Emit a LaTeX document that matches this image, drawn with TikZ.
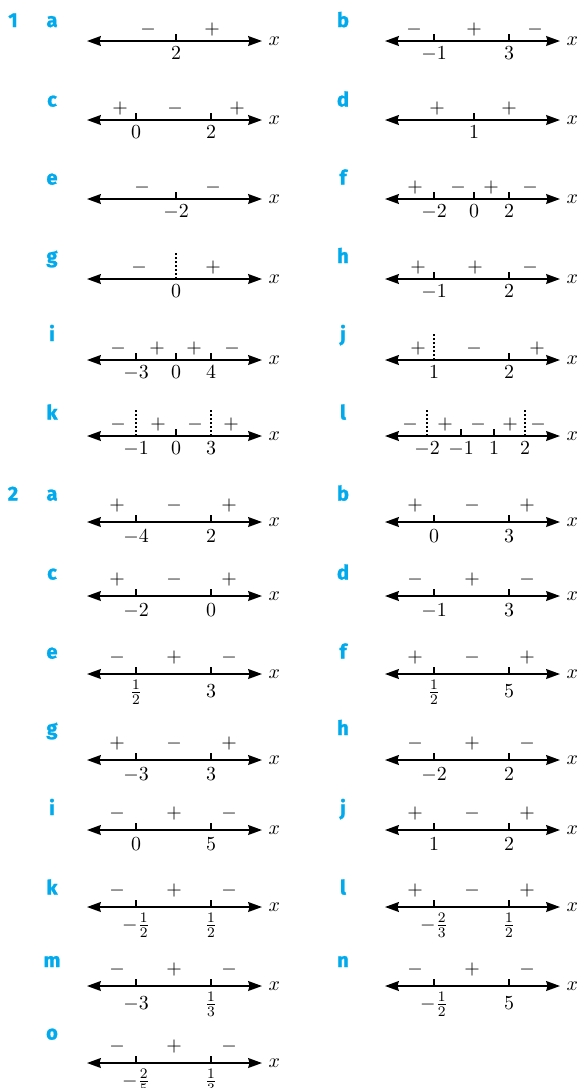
\documentclass[tikz,border=0pt]{standalone}
\usepackage{amsmath}
\usepackage{fontspec}
\usepackage{xcolor}
\usepackage{tikz}
\usetikzlibrary{arrows.meta}
\newfontfamily\labelfont{Fira Sans}[BoldFeatures={FakeBold=1.2}]
\definecolor{labcyan}{RGB}{0,170,236}

\begin{document}
\begin{tikzpicture}[
  x=0.55pt, y=-0.55pt,
  >={Stealth[length=7.6pt, width=5.4pt, inset=0.8pt]},
  axis/.style={<->, line width=1pt},
  tick/.style={line width=0.65pt},
  dtick/.style={line width=0.65pt, dash pattern=on 1.3pt off 0.9pt},
  xlab/.style={anchor=west, inner sep=0pt, xshift=3.2pt, font=\fontsize{11}{13}\selectfont},
  val/.style={anchor=base, inner sep=0pt, font=\fontsize{11}{13}\selectfont},
  sgn/.style={inner sep=0pt, font=\fontsize{11}{13}\selectfont},
  part/.style={anchor=base, inner sep=0pt, text=labcyan, font=\fontsize{11}{13}\labelfont\bfseries}
]
\useasboundingbox (0,0) rectangle (581,1088);

% Question numbers
\node[part] (q1) at (13,27) {1};
\node[part] (q2) at (13,500.5) {2};

% Part letters
\foreach \n/\lt/\xa/\y in {1a/a/52/27, 1b/b/343/27, 1c/c/52/106.5, 1d/d/343/106.5,
    1e/e/52/184.5, 1f/f/343/184.5, 1g/g/52/263, 1h/h/343/263, 1i/i/52/341, 1j/j/343/341,
    1k/k/52/419.5, 1l/l/343/419.5,
    2a/a/52/500.5, 2b/b/343/500.5, 2c/c/52/579.5, 2d/d/343/579.5, 2e/e/52/658.5, 2f/f/343/658.5,
    2g/g/52/735, 2h/h/343/735, 2i/i/52/815, 2j/j/343/815, 2k/k/52/894.5, 2l/l/343/894.5,
    2m/m/52/967, 2n/n/343/967, 2o/o/52/1039.5}
  \node[part] (\n-p) at (\xa,\y) {\lt};

% Question 1: axes
\foreach \n/\xa/\y in {1a/87/41, 1b/385/41, 1c/87/120, 1d/385/120, 1e/87/199, 1f/385/199,
    1g/87/279, 1h/385/279, 1i/87/360, 1j/385/360, 1k/87/436, 1l/385/436} {
  \coordinate (\n-w) at (\xa,\y);
  \coordinate (\n-e) at (\xa+175,\y);
  \draw[axis] (\n-w) -- (\n-e) node[xlab] (\n-x) {$x$};
}

% Question 1: ticks
\foreach \xa/\y in {176/41, 434/41, 509/41, 136/120, 211/120, 474/120, 176/199,
    434/199, 474/199, 509/199, 434/279, 509/279, 136/360, 176/360, 211/360, 509/360,
    176/436, 461/436, 494/436}
  \draw[tick] (\xa,\y) -- (\xa,\y-7);
\foreach \xa/\y in {176/279, 434/360, 136/436, 211/436, 427/436, 525/436}
  \draw[dtick] (\xa,\y) -- (\xa,\y-26);

% Question 1: values
\foreach \n/\xa/\b/\va in {1a/176/59.5/2, 1b/434/59.5/-1, 1b/509/59.5/3,
    1c/136/138.5/0, 1c/211/138.5/2, 1d/474/138.5/1, 1e/176/217.5/-2,
    1f/434/217.5/-2, 1f/474/217.5/0, 1f/509/217.5/2, 1g/176/297.5/0,
    1h/434/297.5/-1, 1h/509/297.5/2, 1i/136/378.5/-3, 1i/176/378.5/0, 1i/211/378.5/4,
    1j/434/378.5/1, 1j/509/378.5/2, 1k/136/454.5/-1, 1k/176/454.5/0, 1k/211/454.5/3,
    1l/427/454.5/-2, 1l/461/454.5/-1, 1l/494/454.5/1, 1l/525/454.5/2}
  \node[val] (\n-v\xa) at (\xa,\b) {$\va$};

% Question 1: signs
\foreach \n/\xa/\y/\sa in {1a/148/30/-, 1a/212/30/+, 1b/414/30/-, 1b/474/30/+, 1b/535/30/-,
    1c/120/109/+, 1c/175/109/-, 1c/237/109/+, 1d/437/109/+, 1d/509/109/+,
    1e/142/188/-, 1e/213/188/-, 1f/415/188/+, 1f/458/188/-, 1f/491/188/+, 1f/530/188/-,
    1g/139/268/-, 1g/213/268/+, 1h/418/268/+, 1h/475/268/+, 1h/530/268/-,
    1i/118/349/-, 1i/157/349/+, 1i/194/349/+, 1i/232/349/-,
    1j/418/349/+, 1j/474/349/-, 1j/537/349/+,
    1k/118/425/-, 1k/158/425/+, 1k/195/425/-, 1k/231/425/+,
    1l/410/425/-, 1l/445/425/+, 1l/478/425/-, 1l/510/425/+, 1l/538/425/-}
  \node[sgn] (\n-s\xa) at (\xa,\y) {$\sa$};

% Question 2: one line per part
\foreach \n/\xa/\y/\b/\va/\vb/\sa/\sb/\sc in {
    2a/87/522/542/-4/2/+/-/+,
    2b/385/522/542/0/3/+/-/+,
    2c/87/596/616/-2/0/+/-/+,
    2d/385/596/616/-1/3/-/+/-,
    2e/87/674/697.5/\frac12/3/-/+/-,
    2f/385/674/697.5/\frac12/5/+/-/+,
    2g/87/760/780/-3/3/+/-/+,
    2h/385/760/780/-2/2/-/+/-,
    2i/87/830/850/0/5/-/+/-,
    2j/385/830/850/1/2/+/-/+,
    2k/87/907/930.5/-\frac12/\frac12/-/+/-,
    2l/385/907/930.5/-\frac23/\frac12/+/-/+,
    2m/87/986/1009.5/-3/\frac13/-/+/-,
    2n/385/986/1009.5/-\frac12/5/-/+/-,
    2o/87/1063/1086.5/-\frac25/\frac13/-/+/-} {
  \coordinate (\n-w) at (\xa,\y);
  \coordinate (\n-e) at (\xa+175,\y);
  \draw[axis] (\n-w) -- (\n-e) node[xlab] (\n-x) {$x$};
  \draw[tick] (\xa+49,\y) -- (\xa+49,\y-7);
  \draw[tick] (\xa+124,\y) -- (\xa+124,\y-7);
  \node[val] (\n-v1) at (\xa+49,\b) {$\va$};
  \node[val] (\n-v2) at (\xa+124,\b) {$\vb$};
  \node[sgn] (\n-s1) at (\xa+30,\y-16) {$\sa$};
  \node[sgn] (\n-s2) at (\xa+87,\y-16) {$\sb$};
  \node[sgn] (\n-s3) at (\xa+142,\y-16) {$\sc$};
}
\end{tikzpicture}
\end{document}
